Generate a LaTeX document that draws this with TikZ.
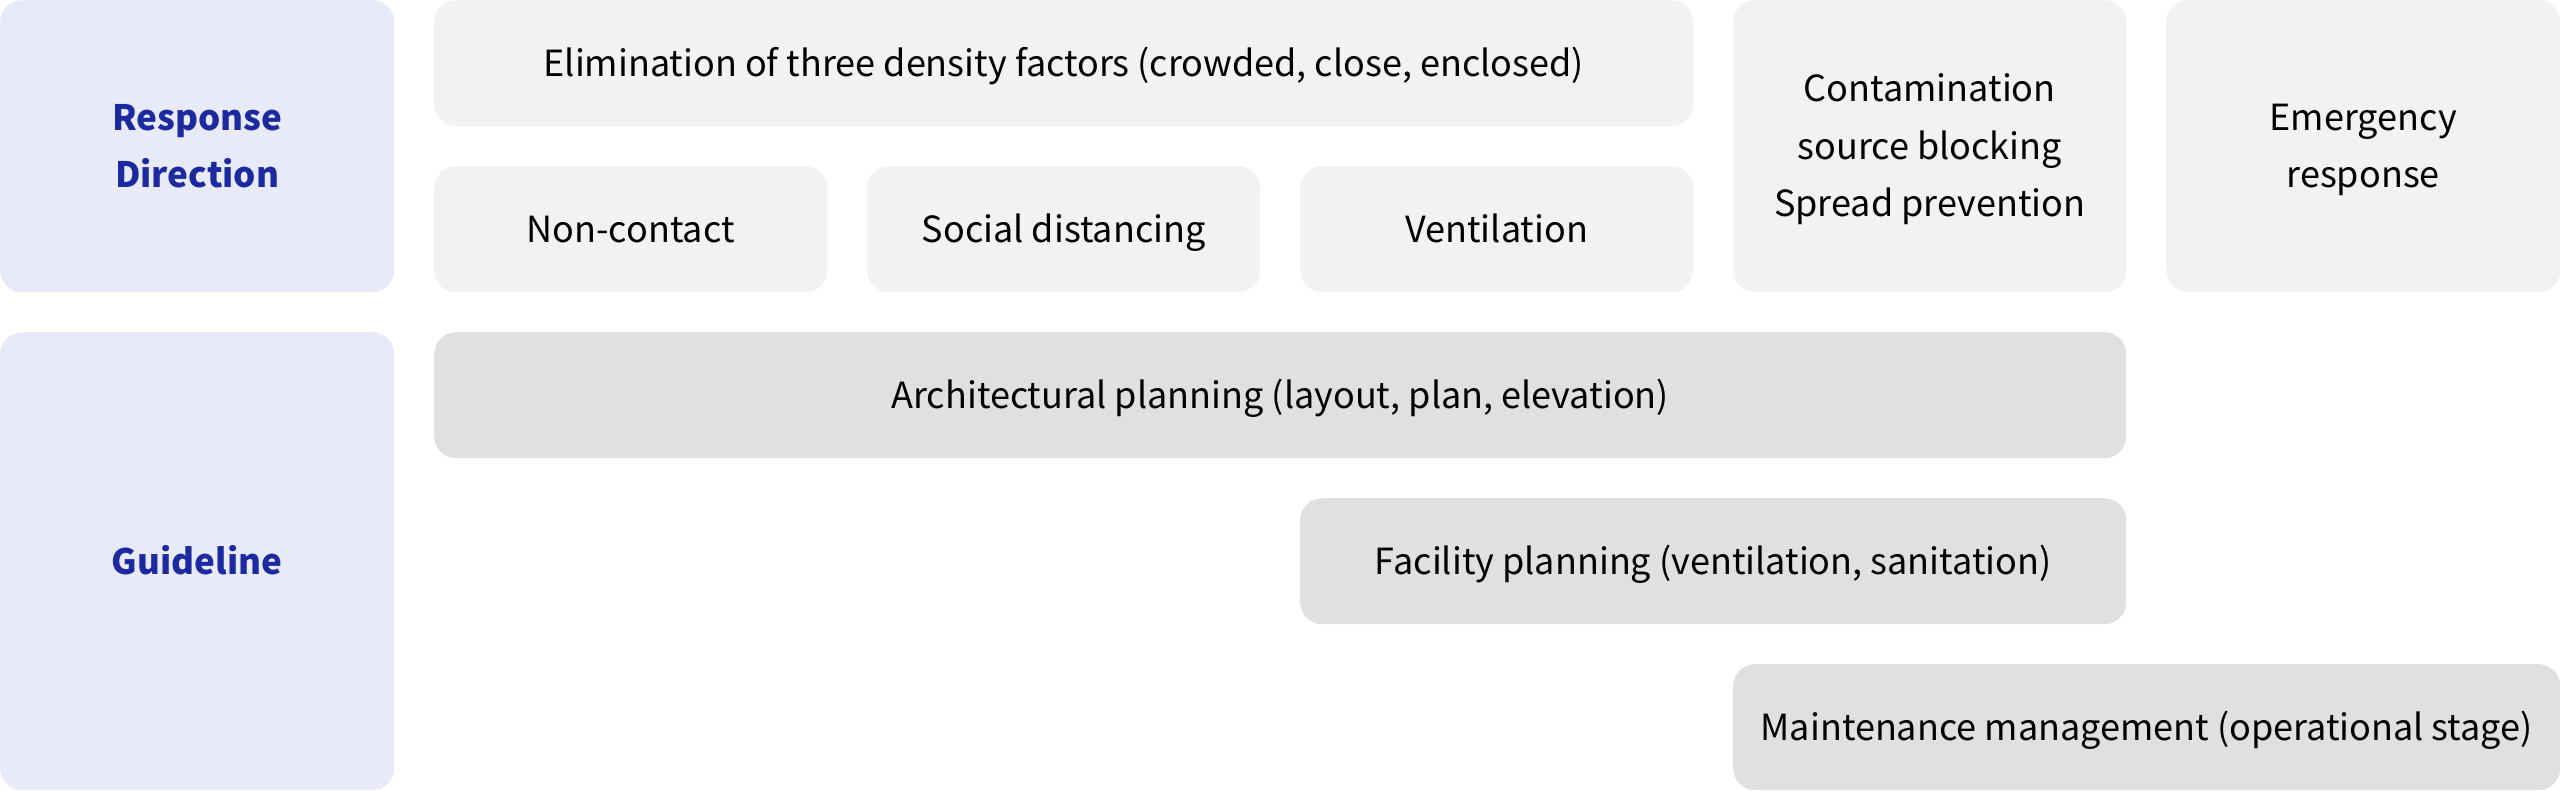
\documentclass[tikz,border=0pt]{standalone}
\usepackage{fontspec}
\setmainfont{Noto Sans CJK KR}
\definecolor{labfill}{HTML}{E8EAF9}
\definecolor{labtext}{HTML}{1B2A9E}
\definecolor{topfill}{HTML}{F2F2F2}
\definecolor{botfill}{HTML}{E0E0E0}
\newcommand{\tl}{\rule{0pt}{40pt}}
\newcommand{\bl}{\rule[-14pt]{0pt}{14pt}}
\tikzset{
  box/.style={rounded corners=22pt, inner sep=0pt, align=center, anchor=north west,
    font=\fontsize{36}{57.5}\selectfont, text=black},
  lab/.style={box, fill=labfill, text=labtext, font=\fontsize{35}{57.5}\selectfont\bfseries},
  topbox/.style={box, fill=topfill},
  botbox/.style={box, fill=botfill}
}
\begin{document}
\begin{tikzpicture}[x=1pt,y=-1pt]
\useasboundingbox (0,0) rectangle (2560,790);
\fill[white] (0,0) rectangle (2560,790);
% labels
\node[lab, minimum width=394pt, minimum height=292pt] (resp) at (0,0) {\tl Response\\Direction\bl};
\node[lab, minimum width=394pt, minimum height=458pt] (guide) at (0,332) {\tl Guideline\bl};
% response direction boxes
\node[topbox, minimum width=1259pt, minimum height=126pt] (elim) at (434,0) {\tl Elimination of three density factors (crowded, close, enclosed)\bl};
\node[topbox, minimum width=393pt, minimum height=126pt] (noncontact) at (434,166) {\tl Non-contact\bl};
\node[topbox, minimum width=393pt, minimum height=126pt] (social) at (867,166) {\tl Social distancing\bl};
\node[topbox, minimum width=393pt, minimum height=126pt] (vent) at (1300,166) {\tl Ventilation\bl};
\node[topbox, minimum width=393pt, minimum height=292pt] (contam) at (1733,0) {\tl Contamination\\source blocking\\Spread prevention\bl};
\node[topbox, minimum width=394pt, minimum height=292pt] (emerg) at (2166,0) {\tl Emergency\\response\bl};
% guideline boxes
\node[botbox, minimum width=1692pt, minimum height=126pt] (arch) at (434,332) {\tl Architectural planning (layout, plan, elevation)\bl};
\node[botbox, minimum width=826pt, minimum height=126pt] (facil) at (1300,498) {\tl Facility planning (ventilation, sanitation)\bl};
\node[botbox, minimum width=827pt, minimum height=126pt] (maint) at (1733,664) {\tl Maintenance management (operational stage)\bl};
\end{tikzpicture}
\end{document}
